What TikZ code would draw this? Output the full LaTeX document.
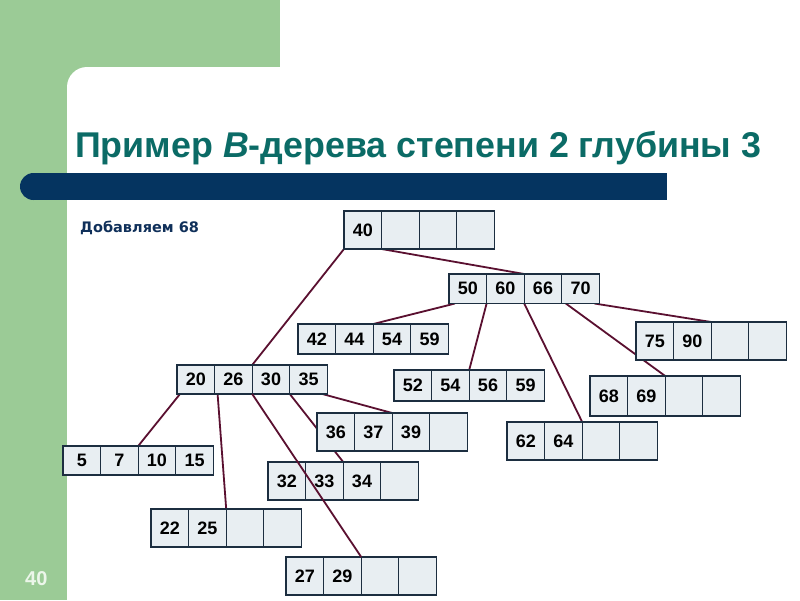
\documentclass[tikz,border=0pt]{standalone}
\usepackage{fontspec}
\setmainfont{Liberation Sans}
\newfontfamily\subfont{DejaVu Sans}
\definecolor{bggreen}{RGB}{155,203,150}
\definecolor{titlecol}{RGB}{11,107,102}
\definecolor{barcol}{RGB}{5,52,96}
\definecolor{subcol}{RGB}{16,48,90}
\definecolor{cellfill}{RGB}{232,238,242}
\definecolor{cellborder}{RGB}{28,46,64}
\definecolor{linkcol}{RGB}{90,16,48}
\definecolor{pagecol}{RGB}{236,246,234}
\pgfdeclarelayer{bottom}
\pgfdeclarelayer{links}
\pgfsetlayers{bottom,links,main}
\newcommand\bnode[8]{%
  \node[cell, minimum height=#4] (#1-1) at (#2,#3) {#5};
  \node[cell, minimum height=#4] (#1-2) at (#1-1.north east) {#6};
  \node[cell, minimum height=#4] (#1-3) at (#1-2.north east) {#7};
  \node[cell, minimum height=#4] (#1-4) at (#1-3.north east) {#8};
}
\begin{document}
\begin{tikzpicture}[x=1pt,y=-1pt,
  cell/.style={draw=cellborder, fill=cellfill, line width=1.1pt, minimum width=37.6pt,
    inner sep=0pt, outer sep=0pt, anchor=north west,
    font=\fontsize{18}{18}\selectfont\bfseries},
  link/.style={draw=linkcol, line width=1.8pt}]
\useasboundingbox (0,0) rectangle (800,600);
\begin{pgfonlayer}{bottom}
\fill[white] (0,0) rectangle (800,600);
\fill[bggreen] (0,0) rectangle (280,67);
\fill[bggreen] (0,0) rectangle (67,600);
\fill[bggreen] (67,67) rectangle (87,87);
\fill[white] (87,87) circle[radius=20];
\fill[barcol] (33.5,173) rectangle (667,200);
\fill[barcol] (33.5,186.5) circle[radius=13.5];
\end{pgfonlayer}
\node[anchor=base west, inner sep=0pt, text=titlecol, font=\fontsize{35.8}{40}\selectfont\bfseries] (title) at (75,157) {Пример \textit{B}-дерева степени 2 глубины 3};
\node[anchor=base west, inner sep=0pt, text=subcol, font=\subfont\fontsize{14.5}{16}\selectfont\bfseries] (sub) at (80,232) {Добавляем 68};
\node[anchor=base west, inner sep=0pt, text=pagecol, font=\fontsize{20}{22}\selectfont\bfseries] (page) at (25,585) {40};
% B-tree nodes
\bnode{r}{344}{211}{38}{40}{}{}{}
\bnode{B}{449}{274}{29.5}{50}{60}{66}{70}
\bnode{A}{177}{365}{29}{20}{26}{30}{35}
\bnode{C}{298}{324}{30}{42}{44}{54}{59}
\bnode{D}{394}{370}{31}{52}{54}{56}{59}
\bnode{G}{636}{322}{38}{75}{90}{}{}
\bnode{F}{590}{376}{40}{68}{69}{}{}
\bnode{E}{507}{422}{38}{62}{64}{}{}
\bnode{H}{63}{446}{29}{5}{7}{10}{15}
\bnode{K}{268}{462}{38}{32}{33}{34}{}
\bnode{L}{317}{413}{38}{36}{37}{39}{}
\bnode{I}{151}{509}{38}{22}{25}{}{}
\bnode{J}{286}{557}{38}{27}{29}{}{}
% links behind nodes
\begin{pgfonlayer}{links}
\draw[link] (r-1.south west) -- (A-2.north east);
\draw[link] (r-1.south east) -- (B-2.north east);
\draw[link] ([xshift=6pt]B-1.south west) -- (C-2.north east);
\draw[link] (B-1.south east) -- (D-2.north east);
\draw[link] (B-2.south east) -- (E-2.north east);
\draw[link] ([xshift=4pt]B-3.south east) -- (F-2.north east);
\draw[link] ([xshift=-5pt]B-4.south east) -- (G-2.north east);
\draw[link] ([xshift=3pt]A-1.south west) -- (H-2.north east);
\draw[link] ([xshift=3pt]A-1.south east) -- (I-2.north east);
\draw[link] (A-3.south east) -- (K-2.north east);
\draw[link] ([xshift=-5pt]A-4.south east) -- (L-2.north east);
\end{pgfonlayer}
% link drawn over node K
\draw[link] (A-2.south east) -- (J-2.north east);
\end{tikzpicture}
\end{document}
